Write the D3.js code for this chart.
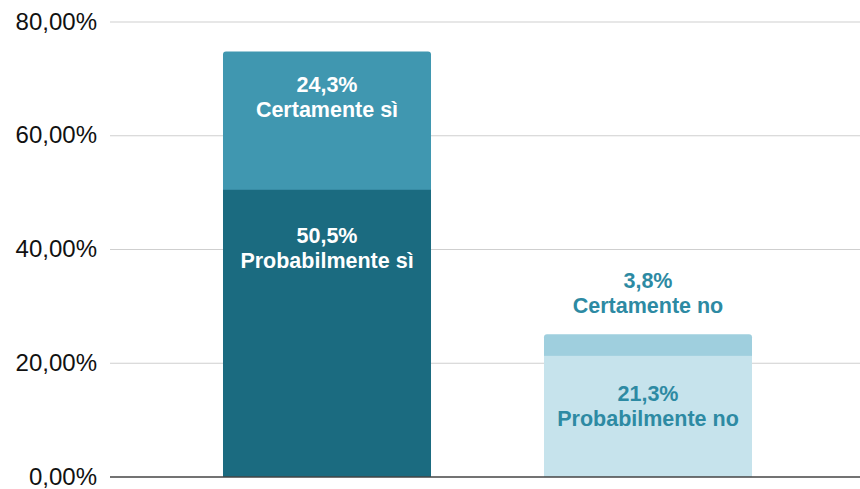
<!DOCTYPE html>
<html><head><meta charset="utf-8">
<script src="https://cdn.jsdelivr.net/npm/d3@7"></script>
<style>body{margin:0;background:#fff}svg{display:block}</style>
</head><body>
<svg id="c" width="860" height="489"></svg>
<script>
const categories = ["Sì", "No"];
const lowerValues = [50.5, 21.3];
const upperValues = [24.3, 3.8];
const lowerLabels = ["Probabilmente sì", "Probabilmente no"];
const upperLabels = ["Certamente sì", "Certamente no"];
const yTicks = [0, 20, 40, 60, 80];

const svg = d3.select("#c");
const W = 860, H = 489;
const y = d3.scaleLinear().domain([0, 80]).range([477, 22]);
const x = d3.scaleBand().domain(categories).range([166.5, 808.5]).paddingInner(0.352).paddingOuter(0.176);
const font = "'Liberation Sans', Arial, Helvetica, sans-serif";
const fmt = v => d3.format(".2f")(v).replace(".", ",") + "%";
const fmt1 = v => d3.format(".1f")(v).replace(".", ",") + "%";

// gridlines
svg.append("g").selectAll("line").data(yTicks.filter(t => t > 0)).join("line")
  .attr("x1", 110).attr("x2", W).attr("y1", d => y(d)).attr("y2", d => y(d))
  .attr("stroke", "#cfcfcf").attr("stroke-width", 1.2);

// y axis labels
const yAxis = d3.axisLeft(y).tickValues(yTicks).tickFormat(fmt).tickSize(0).tickPadding(0);
const ga = svg.append("g").attr("transform", "translate(97,0)").call(yAxis);
ga.select(".domain").remove();
ga.selectAll("text").attr("font-family", font).attr("font-size", 24).attr("fill", "#111").attr("dy", "0.3em");

const lowerCol = ["#1b6b80", "#c6e3ec"];
const upperCol = ["#4097b0", "#9fcfde"];
const textCol = ["#ffffff", "#2d8aa3"];

function roundTop(x0, y0, w, h, r) {
  return `M${x0},${y0 + h}V${y0 + r}Q${x0},${y0} ${x0 + r},${y0}H${x0 + w - r}Q${x0 + w},${y0} ${x0 + w},${y0 + r}V${y0 + h}Z`;
}

categories.forEach((c, i) => {
  const bx = x(c), bw = x.bandwidth();
  const top = lowerValues[i] + upperValues[i];
  svg.append("path").attr("d", roundTop(bx, y(top), bw, y(lowerValues[i]) - y(top) + 1, 3)).attr("fill", upperCol[i]);
  svg.append("rect").attr("x", bx).attr("y", y(lowerValues[i])).attr("width", bw)
    .attr("height", y(0) - y(lowerValues[i])).attr("fill", lowerCol[i]);
});

// baseline
svg.append("line").attr("x1", 110).attr("x2", W).attr("y1", y(0)).attr("y2", y(0))
  .attr("stroke", "#444").attr("stroke-width", 1.5);

// labels
function label(cx, by, lines, col) {
  const t = svg.append("text").attr("text-anchor", "middle").attr("font-family", font)
    .attr("font-weight", "bold").attr("font-size", 21.5).attr("fill", col);
  lines.forEach((l, k) => t.append("tspan").attr("x", cx).attr("y", by + k * 25).text(l));
}
const cx = i => x(categories[i]) + x.bandwidth() / 2;
label(cx(0), y(lowerValues[0] + upperValues[0]) + 40, [fmt1(upperValues[0]), upperLabels[0]], textCol[0]);
label(cx(0), y(lowerValues[0]) + 53, [fmt1(lowerValues[0]), lowerLabels[0]], textCol[0]);
label(cx(1), y(lowerValues[1] + upperValues[1]) - 46, [fmt1(upperValues[1]), upperLabels[1]], textCol[1]);
label(cx(1), y(lowerValues[1]) + 45, [fmt1(lowerValues[1]), lowerLabels[1]], textCol[1]);
</script>
</body></html>
